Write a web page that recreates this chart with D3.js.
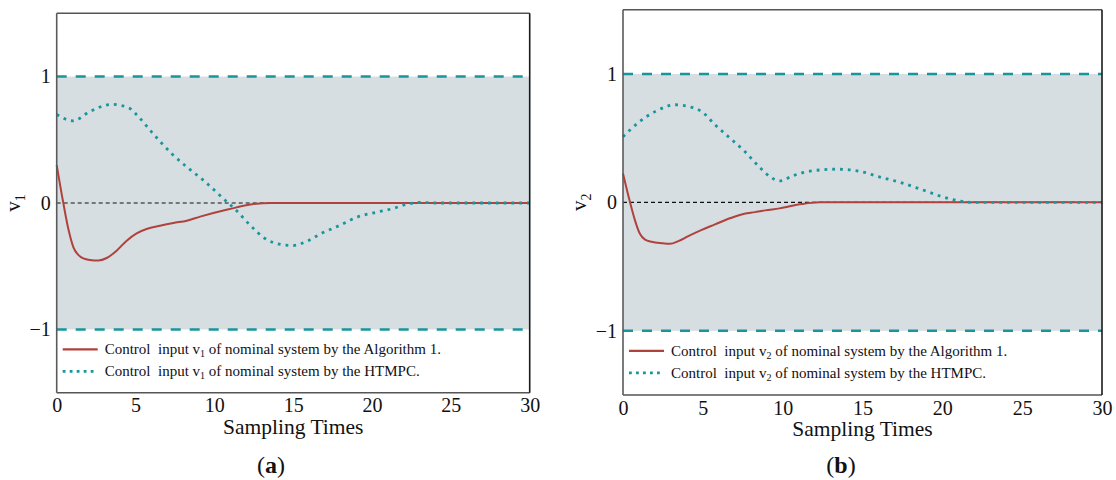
<!DOCTYPE html>
<html><head><meta charset="utf-8">
<script src="https://cdn.jsdelivr.net/npm/d3@7"></script>
<style>body{margin:0;background:#fff}svg{display:block}text{font-family:"Liberation Serif","Times New Roman",serif;fill:#111}</style>
</head><body><svg id="c" width="1116" height="480"></svg>
<script>
const xTicks = [0,5,10,15,20,25,30];
const yTicks = [-1,0,1];
// Panel (a): v1
const tA1 = [0,0.42,0.74,1.06,1.37,1.69,2.11,2.64,3.17,3.8,4.44,5.07,5.7,6.55,7.4,8.25,9.1,10.9,12.3,13.6,20,30];
const vA1 = [0.3,0,-0.206,-0.35,-0.41,-0.438,-0.45,-0.454,-0.435,-0.377,-0.298,-0.24,-0.206,-0.18,-0.158,-0.14,-0.108,-0.05,-0.012,0,0,0];
const tH1 = [0,1.04,2.06,3.5,4.6,5.2,6.1,7.3,8.2,9.3,10.7,11.4,12.3,13.2,14.3,15,15.9,16.8,17.9,19.1,20.4,21.3,22.2,23.1,24,30];
const vH1 = [0.70,0.65,0.72,0.78,0.75,0.68,0.55,0.39,0.29,0.18,0.02,-0.06,-0.18,-0.28,-0.33,-0.336,-0.30,-0.24,-0.18,-0.11,-0.07,-0.045,-0.01,0.005,0,0];
// Panel (b): v2
const tA2 = [0,0.44,0.75,1.06,1.38,1.8,2.42,2.94,3.47,4.09,4.93,5.76,6.6,7.43,8.27,8.9,9.8,11.2,12.3,20,30];
const vA2 = [0.224,0,-0.14,-0.245,-0.29,-0.307,-0.318,-0.323,-0.302,-0.263,-0.214,-0.172,-0.128,-0.094,-0.076,-0.0625,-0.047,-0.013,0,0,0];
const tH2 = [0,0.95,2.06,3.3,4.3,4.9,5.8,6.7,7.6,8.5,9.2,9.8,10.7,11.8,13.4,14.9,16,17.4,18.7,20,21.1,21.8,30];
const vH2 = [0.51,0.62,0.71,0.76,0.74,0.71,0.60,0.50,0.40,0.28,0.20,0.167,0.21,0.245,0.258,0.24,0.20,0.154,0.10,0.044,0.01,0,0];

const svg = d3.select("#c");
const RED = "#b0423d", TEAL = "#17969c", BAND = "#d6dee1";

function panel(cfg){
  const {x0,x1,y0,y1,sub,letter,capX,tA,vA,tH,vH} = cfg;
  const x = d3.scaleLinear().domain([0,30]).range([x0,x1]);
  const y = d3.scaleLinear().domain([-1.5,1.5]).range([y1,y0]);
  const g = svg.append("g");
  g.append("rect").attr("x",x0).attr("y",y(1)).attr("width",x1-x0).attr("height",y(-1)-y(1)).attr("fill",BAND);
  [1,-1].forEach(b=>g.append("line").attr("x1",x0).attr("x2",x1).attr("y1",y(b)).attr("y2",y(b))
     .attr("stroke",TEAL).attr("stroke-width",2.5).attr("stroke-dasharray","10,9"));
  g.append("line").attr("x1",x0).attr("x2",x1).attr("y1",y(0)).attr("y2",y(0))
     .attr("stroke","#111").attr("stroke-width",1.1).attr("stroke-dasharray","4,3");
  const line = d3.line().x(d=>x(d[0])).y(d=>y(d[1])).curve(d3.curveMonotoneX);
  g.append("path").attr("d",line(d3.zip(tA,vA))).attr("fill","none").attr("stroke",RED).attr("stroke-width",2);
  g.append("path").attr("d",line(d3.zip(tH,vH))).attr("fill","none").attr("stroke",TEAL).attr("stroke-width",2.8).attr("stroke-dasharray","2.8,5");
  // frame
  const edge = (a,b,c,d,col)=>g.append("line").attr("x1",a).attr("y1",b).attr("x2",c).attr("y2",d).attr("stroke",col).attr("stroke-width",1.6);
  edge(x0,y0,x1,y0,"#555"); edge(x0,y1,x1,y1,"#555"); edge(x0,y0,x0,y1,"#5a5a5a"); edge(x1,y0,x1,y1,"#1a1a1a");
  // axes (labels only)
  const xa = g.append("g").attr("transform",`translate(0,${y1})`)
     .call(d3.axisBottom(x).tickValues(xTicks).tickSize(0).tickPadding(5.5).tickFormat(d3.format("d")));
  xa.select(".domain").remove();
  xa.selectAll("text").attr("font-size",20).style("font-family","Liberation Serif").attr("fill","#111");
  const ya = g.append("g").attr("transform",`translate(${x0},0)`)
     .call(d3.axisLeft(y).tickValues(yTicks).tickSize(0).tickPadding(6).tickFormat(d=>d<0?"\u2212"+Math.abs(d):d));
  ya.select(".domain").remove();
  ya.selectAll("text").attr("font-size",20).style("font-family","Liberation Serif").attr("fill","#111");
  g.append("text").attr("x",(x0+x1)/2).attr("y",y1+41).attr("text-anchor","middle").attr("font-size",21.5).text("Sampling Times");
  const yl = g.append("text").attr("transform",`translate(${x0-37},${(y0+y1)/2}) rotate(-90)`).attr("text-anchor","middle").attr("font-size",21);
  yl.append("tspan").text("v");
  yl.append("tspan").attr("font-size",14).attr("dy",5).text(sub);
  const cap = g.append("text").attr("x",capX).attr("y",473).attr("text-anchor","middle").attr("font-size",24);
  cap.append("tspan").text("(");
  cap.append("tspan").attr("font-weight","bold").text(letter);
  cap.append("tspan").text(")");
  // legend
  const lx = x0+6, ly = y(-1)+25;
  const items = [{c:RED,dash:null,w:2.2,label:"of nominal system by the Algorithm 1."},
                 {c:TEAL,dash:"2.8,4.2",w:2.8,label:"of nominal system by the HTMPC."}];
  items.forEach((it,i)=>{
    const yy = ly + i*22;
    g.append("line").attr("x1",lx).attr("x2",lx+35).attr("y1",yy-5).attr("y2",yy-5).attr("stroke",it.c)
      .attr("stroke-width",it.w).attr("stroke-dasharray",it.dash);
    const t = g.append("text").attr("x",lx+42).attr("y",yy).attr("font-size",15);
    t.append("tspan").text("Control\u00a0 input v");
    t.append("tspan").attr("font-size",10).attr("dy",3).text(sub);
    t.append("tspan").attr("dy",-3).text(" "+it.label);
  });
}
panel({x0:56.7,x1:529.7,y0:13.3,y1:392.7,sub:"1",letter:"a",capX:271,tA:tA1,vA:vA1,tH:tH1,vH:vH1});
panel({x0:623,x1:1102,y0:9.7,y1:395,sub:"2",letter:"b",capX:841,tA:tA2,vA:vA2,tH:tH2,vH:vH2});
</script></body></html>
